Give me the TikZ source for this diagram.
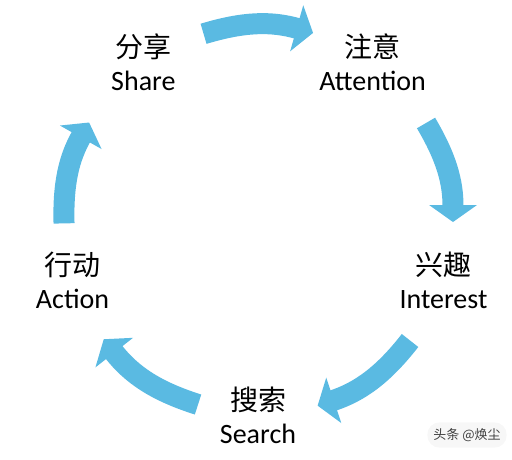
\documentclass[tikz,border=0pt]{standalone}
\usepackage{fontspec}
\setmainfont{Carlito}
\newfontfamily\cjk{Noto Sans CJK SC}
\usepackage{xcolor}
\usepackage{tikz}
\usetikzlibrary{arrows.meta}
\definecolor{flowblue}{RGB}{90,186,226}
\tikzset{
  lbl/.style={align=center,inner sep=0pt,font=\fontsize{14pt}{16.5pt}\selectfont},
  flow/.style={draw=flowblue,line width=10.5pt,-{Triangle[width=23.5pt,length=8.5pt]}},
  wmark/.style={font=\cjk\fontsize{6.5pt}{8pt}\selectfont,text=black!75,fill=black!3,rounded corners=6pt,inner sep=3pt},
}
\begin{document}
\begin{tikzpicture}[x=0.5pt,y=0.5pt]
\useasboundingbox (-258,-239) rectangle (254,220);
\node[lbl] (share) at (126:195) {{\cjk 分享}\\Share};
\node[lbl] (attn) at (54:195) {{\cjk 注意}\\Attention};
\node[lbl] (intr) at (-18:195) {{\cjk 兴趣}\\Interest};
\node[lbl] (srch) at (-90:195) {{\cjk 搜索}\\Search};
\node[lbl] (actn) at (198:195) {{\cjk 行动}\\Action};
\foreach \s/\e [count=\i] in {106.3/73.6, 30/-0.6, -38.4/-72.2, -108/-142.3, 181/150} {
  \coordinate (t\i) at (\s:194); \coordinate (h\i) at (\e:195);
  \pgfmathsetmacro\bnd{(\s-\e)/2}
  \draw[flow] (t\i) to[bend left=\bnd] (h\i);
}
\node[wmark] (wm) at (209,-215) {头条 @焕尘};
\end{tikzpicture}
\end{document}
